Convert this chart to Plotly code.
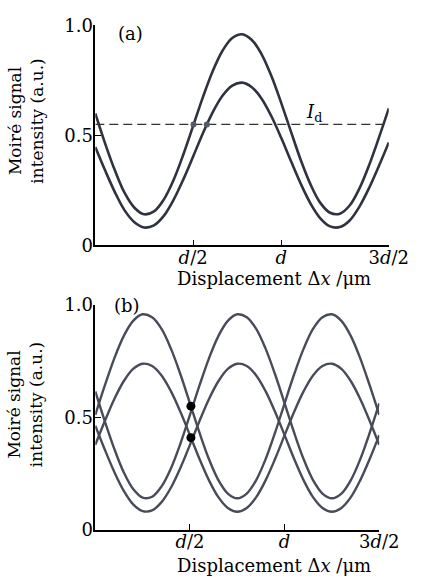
import plotly.graph_objects as go

# ---- data (x in units of d) ----
x_pts = [0.00, 0.05, 0.10, 0.15, 0.20, 0.25, 0.30, 0.35, 0.40, 0.45, 0.50,
         0.55, 0.60, 0.65, 0.70, 0.75, 0.80, 0.85, 0.90, 0.95, 1.00,
         1.05, 1.10, 1.15, 1.20, 1.25, 1.30, 1.35, 1.40, 1.45, 1.50]

# panel (a)
a_upper = [0.600, 0.464, 0.341, 0.238, 0.171, 0.141, 0.154, 0.208, 0.297, 0.413, 0.543,
           0.674, 0.792, 0.885, 0.943, 0.960, 0.934, 0.869, 0.770, 0.648, 0.517,
           0.388, 0.277, 0.193, 0.148, 0.144, 0.181, 0.259, 0.366, 0.491, 0.623]
a_lower = [0.447, 0.341, 0.242, 0.159, 0.105, 0.081, 0.091, 0.134, 0.207, 0.300, 0.404,
           0.510, 0.605, 0.680, 0.726, 0.740, 0.719, 0.667, 0.587, 0.489, 0.383,
           0.280, 0.190, 0.123, 0.086, 0.083, 0.113, 0.176, 0.262, 0.362, 0.468]
a_threshold = 0.55
a_dot_x = [0.502, 0.570]
a_dot_y = [0.55, 0.55]

# panel (b)
b_upper_1 = [0.511, 0.641, 0.762, 0.862, 0.930, 0.959, 0.946, 0.894, 0.805, 0.691, 0.563,
             0.433, 0.315, 0.221, 0.161, 0.140, 0.161, 0.221, 0.315, 0.433, 0.563,
             0.691, 0.805, 0.894, 0.946, 0.959, 0.930, 0.862, 0.762, 0.641, 0.511]
b_lower_1 = [0.378, 0.483, 0.581, 0.661, 0.716, 0.739, 0.729, 0.687, 0.616, 0.524, 0.421,
             0.316, 0.221, 0.145, 0.097, 0.080, 0.097, 0.145, 0.221, 0.316, 0.421,
             0.524, 0.616, 0.687, 0.729, 0.739, 0.716, 0.661, 0.581, 0.483, 0.378]
b_upper_2 = [0.616, 0.484, 0.361, 0.256, 0.181, 0.143, 0.147, 0.193, 0.274, 0.384, 0.511,
             0.641, 0.762, 0.862, 0.930, 0.959, 0.946, 0.894, 0.805, 0.691, 0.563,
             0.433, 0.315, 0.221, 0.161, 0.140, 0.161, 0.221, 0.315, 0.433, 0.563]
b_lower_2 = [0.463, 0.357, 0.258, 0.174, 0.113, 0.083, 0.086, 0.123, 0.188, 0.276, 0.378,
             0.483, 0.581, 0.661, 0.716, 0.739, 0.729, 0.687, 0.616, 0.524, 0.421,
             0.316, 0.221, 0.145, 0.097, 0.080, 0.097, 0.145, 0.221, 0.316, 0.421]
b_dot_x = [0.505, 0.505]
b_dot_y = [0.55, 0.41]

y_tickvals = [0, 0.5, 1.0]
y_ticktext = ["0", "0.5", "1.0"]
a_x_tickvals = [0.5, 0.95, 1.5]
b_x_tickvals = [0.5, 1.0, 1.5]
x_ticktext = ["<i>d</i>/2", "<i>d</i>", "3<i>d</i>/2"]

FONT = "DejaVu Serif"
LINE_A = "#2f3340"
LINE_B = "#474c58"

fig = go.Figure()
for ys in (a_upper, a_lower):
    fig.add_trace(go.Scatter(x=x_pts, y=ys, mode="lines", line=dict(color=LINE_A, width=2.6, shape="spline"),
                             xaxis="x", yaxis="y", showlegend=False))
fig.add_trace(go.Scatter(x=[0, 1.5], y=[a_threshold, a_threshold], mode="lines",
                         line=dict(color="#333333", width=1.3, dash="9px,5px"),
                         xaxis="x", yaxis="y", showlegend=False))
fig.add_trace(go.Scatter(x=a_dot_x, y=a_dot_y, mode="markers", marker=dict(color="#555a66", size=6),
                         xaxis="x", yaxis="y", showlegend=False))

for ys in (b_upper_1, b_lower_1, b_upper_2, b_lower_2):
    fig.add_trace(go.Scatter(x=x_pts, y=ys, mode="lines", line=dict(color=LINE_B, width=2.4, shape="spline"),
                             xaxis="x2", yaxis="y2", showlegend=False))
fig.add_trace(go.Scatter(x=b_dot_x, y=b_dot_y, mode="markers", marker=dict(color="black", size=9),
                         xaxis="x2", yaxis="y2", showlegend=False))

W, H = 425, 587
def px(v):
    return v / W
def py(v):
    return 1 - v / H

axis_common = dict(showline=True, linecolor="black", linewidth=1.5, ticks="inside", ticklen=6,
                   tickwidth=1.3, tickcolor="black", showgrid=False, zeroline=False,
                   tickfont=dict(family=FONT, size=18, color="black"))

fig.update_layout(
    width=W, height=H, autosize=False,
    margin=dict(l=0, r=0, t=0, b=0),
    paper_bgcolor="white", plot_bgcolor="white",
    xaxis=dict(domain=[px(100), px(408)], range=[0, 1.5], anchor="y", ticklabelstandoff=-5,
               tickvals=a_x_tickvals, ticktext=x_ticktext, **axis_common),
    yaxis=dict(domain=[py(243), py(15)], range=[0, 1.0], anchor="x", ticklabelstandoff=-3,
               tickvals=y_tickvals, ticktext=y_ticktext, **axis_common),
    xaxis2=dict(domain=[px(100), px(398)], range=[0, 1.5], anchor="y2", ticklabelstandoff=-5,
                tickvals=b_x_tickvals, ticktext=x_ticktext, **axis_common),
    yaxis2=dict(domain=[py(538), py(305)], range=[0, 1.0], anchor="x2", ticklabelstandoff=-3,
                tickvals=y_tickvals, ticktext=y_ticktext, **axis_common),
)

tfont = dict(family=FONT, size=18, color="black")
ann = []
for ycen in (114, 408):
    ann.append(dict(text="Moiré signal<br>intensity (a.u.)", textangle=-90, x=px(27), y=py(ycen),
                    xref="paper", yref="paper", showarrow=False, font=dict(family=FONT, size=17, color="black"),
                    xanchor="center", yanchor="middle"))
for ycen in (277, 575):
    ann.append(dict(text="Displacement Δ<i>x</i> /μm", x=px(288), y=py(ycen), xref="paper", yref="paper",
                    showarrow=False, font=tfont, xanchor="center", yanchor="middle"))
ann.append(dict(text="(a)", x=px(137), y=py(23), xref="paper", yref="paper", showarrow=False,
                font=tfont, xanchor="center", yanchor="middle"))
ann.append(dict(text="(b)", x=px(133), y=py(305), xref="paper", yref="paper", showarrow=False,
                font=tfont, xanchor="center", yanchor="middle"))
ann.append(dict(text="<i>I</i><sub>d</sub>", x=px(330), y=py(106), xref="paper", yref="paper", showarrow=False,
                font=tfont, xanchor="center", yanchor="middle"))
fig.update_layout(annotations=ann)

fig.write_html("out.html", config={"displayModeBar": False},
               post_script="document.body.style.margin='0';document.body.style.overflow='hidden';")
